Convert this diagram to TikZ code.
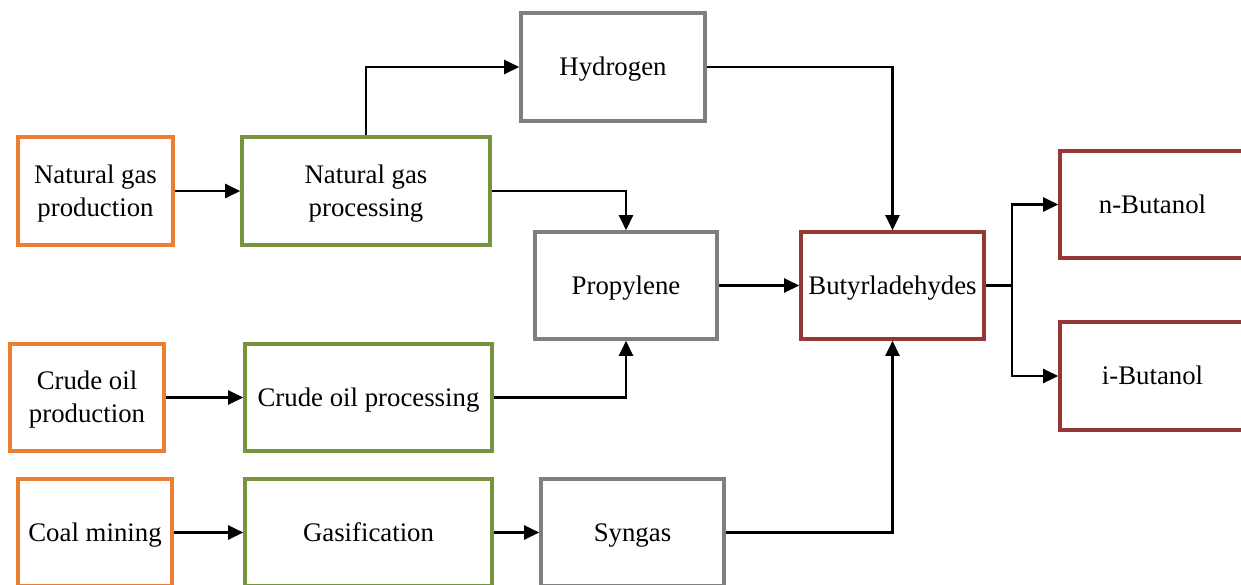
\documentclass[tikz,border=0pt]{standalone}
\usepackage{fontspec}
\setmainfont{Liberation Serif}
\usetikzlibrary{arrows.meta}
\definecolor{cOrange}{HTML}{ED7D31}
\definecolor{cGreen}{HTML}{77933C}
\definecolor{cGray}{HTML}{7F7F7F}
\definecolor{cRed}{HTML}{953735}
\newcommand{\mytopstrut}{\rule{0pt}{13.55pt}}
\tikzset{
  box/.style={draw, line width=1.8pt, rectangle, align=center, inner sep=2pt,
    font=\fontsize{13.4}{16.5}\selectfont},
  obox/.style={box, draw=cOrange},
  gbox/.style={box, draw=cGreen},
  ybox/.style={box, draw=cGray},
  rbox/.style={box, draw=cRed},
  conn/.style={line width=1.2pt, -{Triangle[length=7.5pt,width=7pt]}},
}
\begin{document}
\begin{tikzpicture}[x=0.5pt,y=-0.5pt]
\useasboundingbox (0,0) rectangle (1241,584);
\clip (0,0) rectangle (1241,584);
\node[obox, minimum width=77.5pt, minimum height=54pt] (npr) at (95.5,191) {\mytopstrut Natural gas\\\strut production};
\node[gbox, minimum width=124pt, minimum height=54pt] (ngp) at (366,191) {\mytopstrut Natural gas\\\strut processing};
\node[ybox, minimum width=92pt, minimum height=54pt] (hyd) at (613,67) {\mytopstrut\strut Hydrogen};
\node[ybox, minimum width=91pt, minimum height=53.5pt] (pro) at (626,285.5) {\mytopstrut\strut Propylene};
\node[rbox, minimum width=91.5pt, minimum height=53.5pt] (but) at (892.5,285.5) {\mytopstrut\strut Butyrladehydes};
\node[rbox, minimum width=92.5pt, minimum height=53.5pt] (nbu) at (1152.5,204.5) {\mytopstrut\strut n-Butanol};
\node[rbox, minimum width=92.5pt, minimum height=54pt] (ibu) at (1152.5,376) {\mytopstrut\strut i-Butanol};
\node[obox, minimum width=77pt, minimum height=53.5pt] (cop) at (87,397.5) {\mytopstrut Crude oil\\\strut production};
\node[gbox, minimum width=123.5pt, minimum height=53.5pt] (cpr) at (368.5,397.5) {\mytopstrut\strut Crude oil processing};
\node[obox, minimum width=77pt, minimum height=53.5pt] (coal) at (95,532.5) {\mytopstrut\strut Coal mining};
\node[gbox, minimum width=123.5pt, minimum height=53.5pt] (gas) at (368.5,532.5) {\mytopstrut\strut Gasification};
\node[ybox, minimum width=91.5pt, minimum height=53.5pt] (syn) at (632.5,532.5) {\mytopstrut\strut Syngas};
\draw[conn] (npr.east) -- (ngp.west);
\draw[conn] (ngp.north) |- (hyd.west);
\draw[conn] (ngp.east) -| (pro.north);
\draw[conn] (hyd.east) -| (but.north);
\draw[conn] (pro.east) -- (but.west);
\draw[conn] (cop.east) -- (cpr.west);
\draw[conn] (cpr.east) -| (pro.south);
\draw[conn] (coal.east) -- (gas.west);
\draw[conn] (gas.east) -- (syn.west);
\draw[conn] (syn.east) -| (but.south);
\coordinate (j) at ([xshift=13pt]but.east);
\draw[line width=1.2pt] (but.east) -- (j);
\draw[conn] (j) |- (nbu.west);
\draw[conn] (j) |- (ibu.west);
\end{tikzpicture}
\end{document}
